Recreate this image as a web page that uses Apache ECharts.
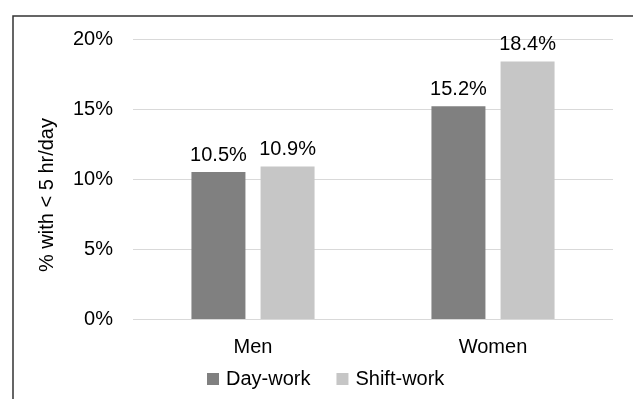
<!DOCTYPE html>
<html lang="en">
  <head>
    <meta charset="UTF-8" />
    <title>Short sleep by work schedule</title>
    <script src="https://cdn.jsdelivr.net/npm/echarts@6.0.0/dist/echarts.min.js"></script>
    <style>
      html, body { margin: 0; padding: 0; background: #fff; }
      #main { width: 633px; height: 399px; }
    </style>
  </head>
  <body>
    <div id="main"></div>

    <script>
      const categories = ['Men', 'Women'];
      const dayWork = [10.5, 15.2];
      const shiftWork = [10.9, 18.4];
      const yTicks = [0, 5, 10, 15, 20];

      const font = 'Liberation Sans, Arial, sans-serif';
      const textStyle = { color: '#000', fontSize: 20, fontFamily: font };

      var myChart = echarts.init(document.querySelector('#main'));

      const options = {
        animation: false,
        textStyle: { fontFamily: font },
        grid: { left: 133, right: 20, top: 39, bottom: 80 },
        legend: {
          data: ['Day-work', 'Shift-work'],
          top: 369,
          left: 207,
          icon: 'rect',
          itemWidth: 12,
          itemHeight: 12,
          itemGap: 26,
          padding: 0,
          textStyle: Object.assign({ padding: [0, 0, 0, 2] }, textStyle),
        },
        xAxis: {
          type: 'category',
          data: categories,
          axisLine: { show: false },
          axisTick: { show: false },
          axisLabel: Object.assign({ margin: 18 }, textStyle),
        },
        yAxis: {
          type: 'value',
          min: yTicks[0],
          max: yTicks[yTicks.length - 1],
          interval: 5,
          axisLine: { show: false },
          axisTick: { show: false },
          axisLabel: Object.assign({ margin: 20, formatter: '{value}%' }, textStyle),
          splitLine: { lineStyle: { color: '#d9d9d9', width: 1 } },
        },
        series: [
          {
            name: 'Day-work',
            type: 'bar',
            data: dayWork,
            barWidth: 54,
            barGap: '28%',
            itemStyle: { color: '#808080' },
            label: Object.assign({ show: true, position: 'top', distance: 7, formatter: '{c}%' }, textStyle),
          },
          {
            name: 'Shift-work',
            type: 'bar',
            data: shiftWork,
            barWidth: 54,
            itemStyle: { color: '#c6c6c6' },
            label: Object.assign({ show: true, position: 'top', distance: 7, formatter: '{c}%' }, textStyle),
          },
        ],
        graphic: [
          {
            type: 'text',
            x: 47,
            y: 195,
            rotation: Math.PI / 2,
            style: {
              text: '% with < 5 hr/day',
              fill: '#000',
              font: '20px ' + font,
              align: 'center',
              verticalAlign: 'middle',
            },
          },
          {
            type: 'polyline',
            shape: { points: [[13, 399], [13, 16], [633, 16]] },
            style: { stroke: '#333', lineWidth: 1.5, fill: null },
          },
        ],
      };

      myChart.setOption(options);

      window.onresize = function () {
        myChart.resize();
      };
    </script>
  </body>
</html>
